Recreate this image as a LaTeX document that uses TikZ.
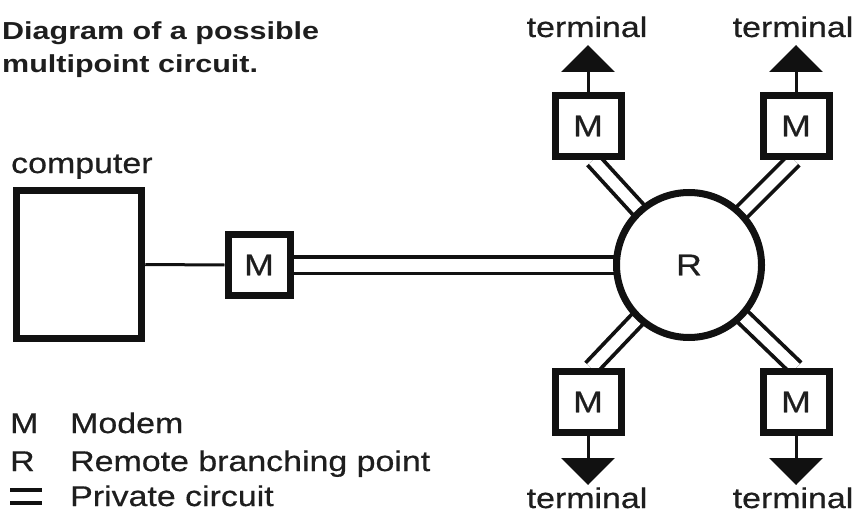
\documentclass[tikz,border=0pt]{standalone}
\usepackage{fontspec}
\setmainfont{Liberation Sans}[FakeStretch=1.19, FakeBold=0.6]
\newfontfamily\titlefont{Liberation Sans}[FakeStretch=1.24]
\usetikzlibrary{arrows.meta,calc}
\pgfdeclarelayer{background}
\pgfsetlayers{background,main}
\definecolor{ink}{HTML}{111111}
\definecolor{txt}{HTML}{1E1E1E}
\tikzset{
  lbl/.style={inner sep=0pt, text=txt, font=\fontsize{28.5}{30}\selectfont},
  ttl/.style={inner sep=0pt, text=txt, font=\titlefont\bfseries\fontsize{24.6}{26}\selectfont, anchor=base west},
  modem/.style={draw=ink, line width=7pt, fill=white, inner sep=0pt,
     minimum width=#1, minimum height=61pt, text=txt, font=\fontsize{30}{30}\selectfont},
  modem/.default=66pt,
  branch/.style={draw=ink, line width=7pt, fill=white, circle, inner sep=0pt,
     minimum size=145pt, text=txt, font=\fontsize{30}{30}\selectfont},
  cpu/.style={draw=ink, line width=7.5pt, fill=white, inner sep=0pt,
     minimum width=125pt, minimum height=148pt},
  private/.style={draw=ink, line width=3.8pt, double=white, double distance=#1},
  private/.default=11pt,
  wire/.style={draw=ink, line width=3pt},
  stem/.style={draw=ink, line width=3pt, -{Triangle[width=53pt,length=27pt]}},
}
\begin{document}
\begin{tikzpicture}[x=1pt,y=-1pt]
\useasboundingbox (0,0) rectangle (858,513);
% title
\node[ttl] (t1) at (2,40) {Diagram of a possible};
\node[ttl] (t2) at (2,73) {multipoint circuit.};
% computer
\node[lbl, anchor=base west] (cl) at (11,173) {computer};
\node[cpu] (comp) at (79,264.5) {};
% modems
\node[modem=62pt] (M0) at (259,265) {M};
\node[branch] (R) at (689,265) {R};
\node[modem] (TL) at (588,126) {M};
\node[modem] (TR) at (796,126) {M};
\node[modem] (BL) at (588,402) {M};
\node[modem] (BR) at (796,402) {M};
% terminals
\coordinate (aTL) at (588,45);
\coordinate (aTR) at (796,45);
\coordinate (aBL) at (588,485);
\coordinate (aBR) at (796,485);
\draw[stem] (TL.north) -- (aTL);
\draw[stem] (TR.north) -- (aTR);
\draw[stem] (BL.south) -- (aBL);
\draw[stem] (BR.south) -- (aBR);
\node[lbl, anchor=base] (lTL) at (587,37) {terminal};
\node[lbl, anchor=base] (lTR) at (793,37) {terminal};
\node[lbl, anchor=base] (lBL) at (587,508) {terminal};
\node[lbl, anchor=base] (lBR) at (793,508) {terminal};
% connections
\begin{pgfonlayer}{background}
\draw[wire] (comp.east) -- (M0.west);
\draw[private=13pt] (M0.center) -- (R.center);
\draw[private] (R.center) -- ($(TL.south)+(5,0)$);
\draw[private] (R.center) -- ($(TR.south)+(-2,0)$);
\draw[private] (R.center) -- ($(BL.north)+(3,0)$);
\draw[private] (R.center) -- ($(BR.north)+(0,0)$);
\end{pgfonlayer}
% legend
\node[lbl, anchor=base west] (kM) at (10,433) {M};
\node[lbl, anchor=base west] (vM) at (70,433) {Modem};
\node[lbl, anchor=base west] (kR) at (10,471) {R};
\node[lbl, anchor=base west] (vR) at (70,471) {Remote branching point};
\coordinate (kPa) at (10,490);
\coordinate (kPb) at (42,490);
\coordinate (kPc) at (10,503);
\coordinate (kPd) at (42,503);
\draw[ink, line width=4pt] (kPa) -- (kPb);
\draw[ink, line width=4pt] (kPc) -- (kPd);
\node[lbl, anchor=base west] (vP) at (70,506) {Private circuit};
\end{tikzpicture}
\end{document}
